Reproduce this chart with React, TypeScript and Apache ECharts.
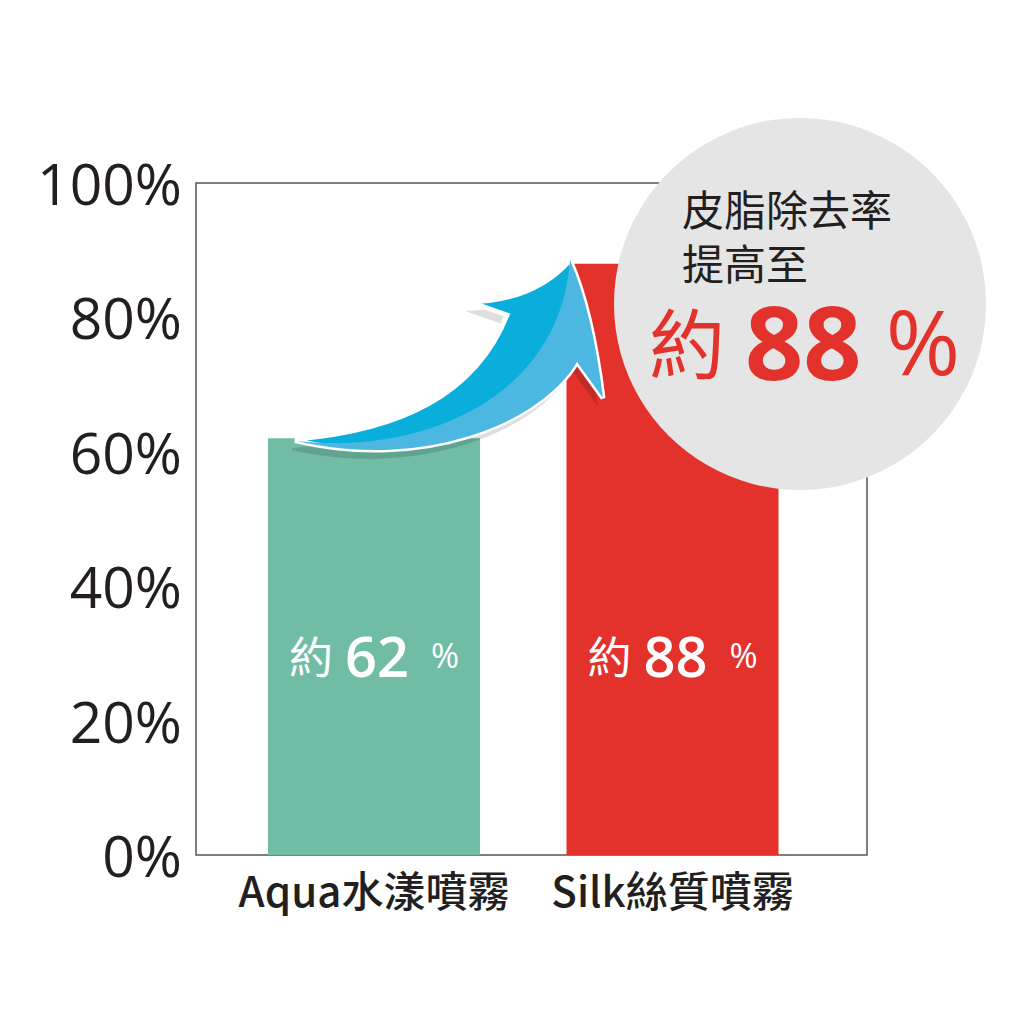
import React, { useEffect, useRef } from "react";
import * as echarts from "echarts";

const categories = ["Aqua水漾噴霧", "Silk絲質噴霧"];
const values = [62, 88];
const barColors = ["#71bca5", "#e3322c"];
const yMin = 0;
const yMax = 100;
const yInterval = 20;
const circleLines = ["皮脂除去率", "提高至"];
const highlightPrefix = "約";
const highlightValue = 88;

const ARROW_MAIN =
  "M297 439 C400 430 475 395 507 315 L470 302 Q535 300 570 260 Q592 310 603 398 L577 362 C540 425 420 470 297 441 Z";
const ARROW_LIGHT =
  "M570 260 Q592 310 603 398 L577 362 C540 425 420 470 297 441 C420 455 560 400 570 260 Z";

let registered = false;
function registerShapes() {
  if (registered) return;
  registered = true;
  echarts.graphic.registerShape("arrowMain", echarts.graphic.extendPath(ARROW_MAIN, {}) as any);
  echarts.graphic.registerShape("arrowLight", echarts.graphic.extendPath(ARROW_LIGHT, {}) as any);
}

const CJK = '"Noto Sans CJK TC", "Noto Sans", sans-serif';
const LAT = '"Open Sans", "Noto Sans", sans-serif';
const RED = "#e3322c";

export default function App() {
  const ref = useRef<HTMLDivElement>(null);
  useEffect(() => {
    if (!ref.current) return;
    registerShapes();
    const chart = echarts.init(ref.current, undefined, { renderer: "svg" });
    const circleText =
      circleLines.map((l) => `{t|${l}}`).join("\n") +
      `\n{r|${highlightPrefix}}{n|${highlightValue}}{p|%}`;
    chart.setOption({
      animation: false,
      backgroundColor: "#ffffff",
      grid: [
        {
          left: 196,
          top: 183,
          width: 671,
          height: 672,
          show: true,
          borderColor: "#555555",
          borderWidth: 1.5,
          backgroundColor: "transparent",
          z: 1,
        },
        { left: 224.75, top: 183, width: 597, height: 672 },
      ],
      xAxis: [
        { type: "category", gridIndex: 0, data: categories, show: false },
        {
          type: "category",
          gridIndex: 1,
          data: categories,
          axisLine: { show: false },
          axisTick: { show: false },
          axisLabel: {
            interval: 0,
            fontSize: 42,
            fontFamily: CJK,
            fontWeight: 500,
            color: "#231f20",
            margin: 12,
          },
        },
      ],
      yAxis: [
        {
          type: "value",
          gridIndex: 0,
          min: yMin,
          max: yMax,
          interval: yInterval,
          axisLine: { show: false },
          axisTick: { show: false },
          splitLine: { show: false },
          axisLabel: {
            formatter: "{value}%",
            fontSize: 57,
            fontWeight: 400,
            fontFamily: LAT,
            color: "#231f20",
            margin: 14,
          },
        },
        {
          type: "value",
          gridIndex: 1,
          min: yMin,
          max: yMax,
          interval: yInterval,
          show: false,
          splitLine: { show: false },
        },
      ],
      series: [
        {
          type: "bar",
          xAxisIndex: 1,
          yAxisIndex: 1,
          barWidth: 212,
          data: values.map((v, i) => ({ value: v, itemStyle: { color: barColors[i] } })),
          label: {
            show: true,
            position: "insideBottom",
            distance: 170,
            formatter: (p: any) => `{a|約}{b|${p.value}}{c|%}`,
            rich: {
              a: { fontSize: 44, fontFamily: CJK, color: "#ffffff", lineHeight: 60, padding: [0, 12, 0, 0] },
              b: { fontSize: 56, fontFamily: LAT, fontWeight: 600, color: "#ffffff", lineHeight: 60 },
              c: { fontSize: 34, fontFamily: LAT, color: "#ffffff", lineHeight: 60, padding: [0, 0, 0, 22] },
            },
          },
        },
      ],
      graphic: [
        {
          type: "circle",
          z: 50,
          shape: { cx: 800, cy: 304, r: 186 },
          style: { fill: "#e6e5e5" },
        },
        {
          type: "arrowMain",
          z: 60,
          x: -5,
          y: 9,
          style: { fill: "rgba(0,0,0,0.13)" },
        },
        {
          type: "arrowMain",
          z: 61,
          style: { fill: "#0aaedb", stroke: "#ffffff", lineWidth: 5 },
        },
        {
          type: "arrowLight",
          z: 62,
          style: { fill: "#4cb8e2" },
        },
        {
          type: "text",
          z: 70,
          x: 649,
          y: 180,
          style: {
            text: circleText,
            verticalAlign: "top",
            align: "left",
            rich: {
              t: {
                fontSize: 42,
                lineHeight: 54,
                fontFamily: CJK,
                fill: "#231f20",
                padding: [0, 0, 0, 33],
              },
              r: { fontSize: 76, lineHeight: 104, fontFamily: CJK, fill: RED },
              n: {
                fontSize: 102,
                lineHeight: 104,
                fontWeight: "bold",
                fontFamily: LAT,
                fill: RED,
                padding: [0, 0, 0, 20],
              },
              p: {
                fontSize: 90,
                lineHeight: 104,
                fontFamily: LAT,
                fill: RED,
                padding: [0, 0, 0, 24],
              },
            },
          },
        },
      ],
    });
    return () => chart.dispose();
  }, []);
  return (
    <div
      ref={ref}
      style={{ position: "absolute", left: 0, top: 0, width: 1024, height: 1024 }}
    />
  );
}
